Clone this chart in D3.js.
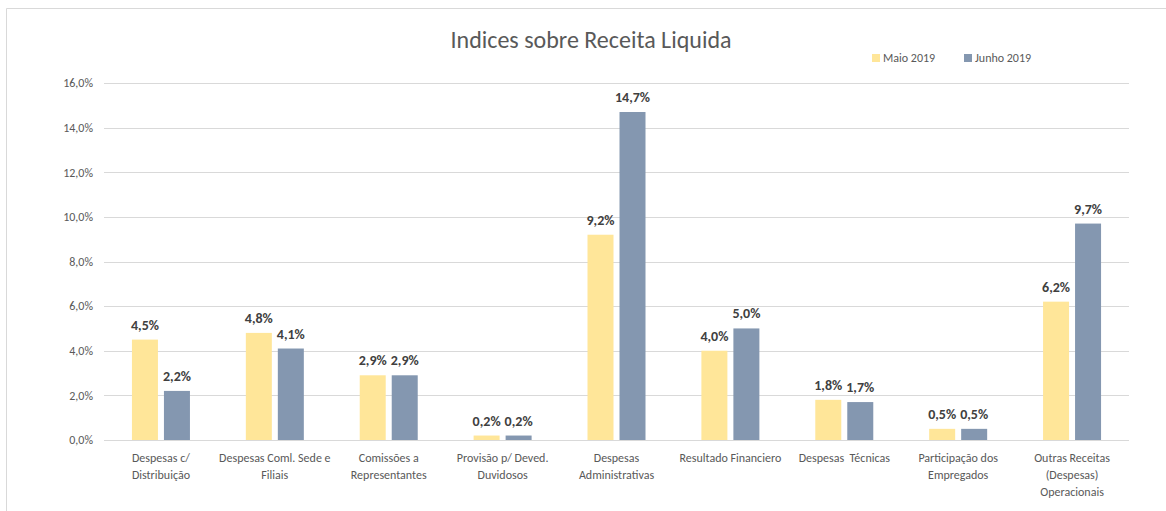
<!DOCTYPE html>
<html>
<head>
<meta charset="utf-8">
<script src="https://cdn.jsdelivr.net/npm/d3@7"></script>
<style>
  body { margin: 0; background: #fff; }
  svg text { font-family: Carlito, Lato, "Open Sans", sans-serif; white-space: pre; }
</style>
</head>
<body>
<svg id="chart" width="1166" height="511"></svg>
<script>
// chart data
var categories = [
    ["Despesas c/", "Distribuição"],
    ["Despesas Coml. Sede e", "Filiais"],
    ["Comissões a", "Representantes"],
    ["Provisão p/ Deved.", "Duvidosos"],
    ["Despesas", "Administrativas"],
    ["Resultado Financiero"],
    ["Despesas  Técnicas"],
    ["Participação dos", "Empregados"],
    ["Outras Receitas", "(Despesas)", "Operacionais"]
];
var maio2019 = [4.5, 4.8, 2.9, 0.2, 9.2, 4.0, 1.8, 0.5, 6.2];
var junho2019 = [2.2, 4.1, 2.9, 0.2, 14.7, 5.0, 1.7, 0.5, 9.7];
var seriesNames = ["Maio 2019", "Junho 2019"];
var yTicks = [0, 2, 4, 6, 8, 10, 12, 14, 16];

SetupIndicesChart();

function SetupIndicesChart() {
    var svg = d3.select("#chart");
    var colors = ["#FFE699", "#8497B0"];
    var fmt = function (v) { return v.toFixed(1).replace(".", ",") + "%"; };

    // chart frame (top and left edges only visible)
    svg.append("path")
        .attr("d", "M6.5,511 V8.5 H1166")
        .attr("fill", "none")
        .attr("stroke", "#D9D9D9");

    var margin = { top: 83, left: 104 },
        width = 1129 - 104,
        height = 440 - 83;

    var g = svg.append("g")
        .attr("transform", "translate(" + margin.left + "," + margin.top + ")");

    var x = d3.scaleBand().domain(d3.range(categories.length)).range([0, width]);
    var y = d3.scaleLinear().domain([0, 16]).range([height, 0]);

    // gridlines
    g.append("g").selectAll("line")
        .data(yTicks)
        .enter().append("line")
        .attr("x1", 0).attr("x2", width)
        .attr("y1", function (d) { return Math.round(y(d)) + 0.5; })
        .attr("y2", function (d) { return Math.round(y(d)) + 0.5; })
        .attr("stroke", "#D9D9D9");

    // y axis labels
    var yAxis = g.append("g")
        .call(d3.axisLeft(y).tickValues(yTicks).tickSize(0).tickPadding(11).tickFormat(fmt));
    yAxis.select(".domain").remove();
    yAxis.selectAll("text").attr("fill", "#595959").style("font-size", "12px");

    var barW = 26, gap = 6;
    var series = [maio2019, junho2019];

    series.forEach(function (vals, s) {
        var offset = s === 0 ? -(barW + gap / 2) : gap / 2;
        var grp = g.append("g");
        grp.selectAll("rect")
            .data(vals)
            .enter().append("rect")
            .attr("x", function (d, i) { return x(i) + x.bandwidth() / 2 + offset; })
            .attr("y", function (d) { return y(d); })
            .attr("width", barW)
            .attr("height", function (d) { return height - y(d); })
            .attr("fill", colors[s]);

        grp.selectAll("text")
            .data(vals)
            .enter().append("text")
            .attr("x", function (d, i) { return x(i) + x.bandwidth() / 2 + offset + barW / 2; })
            .attr("y", function (d) { return y(d) - 10; })
            .attr("text-anchor", "middle")
            .attr("fill", "#404040")
            .style("font-size", "14px")
            .style("font-weight", "bold")
            .text(fmt);
    });

    // category labels
    var cat = g.append("g").selectAll("text")
        .data(categories)
        .enter().append("text")
        .attr("x", function (d, i) { return x(i) + x.bandwidth() / 2; })
        .attr("y", height + 22)
        .attr("text-anchor", "middle")
        .attr("fill", "#595959")
        .style("font-size", "12px");
    cat.selectAll("tspan")
        .data(function (d) { return d; })
        .enter().append("tspan")
        .attr("x", function () { return d3.select(this.parentNode).attr("x"); })
        .attr("dy", function (d, i) { return i === 0 ? 0 : 17; })
        .text(function (d) { return d; });

    // title
    svg.append("text")
        .attr("x", 591)
        .attr("y", 48)
        .attr("text-anchor", "middle")
        .attr("fill", "#595959")
        .style("font-size", "24px")
        .text("Indices sobre Receita Liquida");

    // legend
    var legX = [872, 964];
    seriesNames.forEach(function (name, s) {
        svg.append("rect")
            .attr("x", legX[s]).attr("y", 54)
            .attr("width", 8).attr("height", 8)
            .attr("fill", colors[s]);
        svg.append("text")
            .attr("x", legX[s] + 11).attr("y", 62)
            .attr("fill", "#595959")
            .style("font-size", "12px")
            .text(name);
    });
}
</script>
</body>
</html>
